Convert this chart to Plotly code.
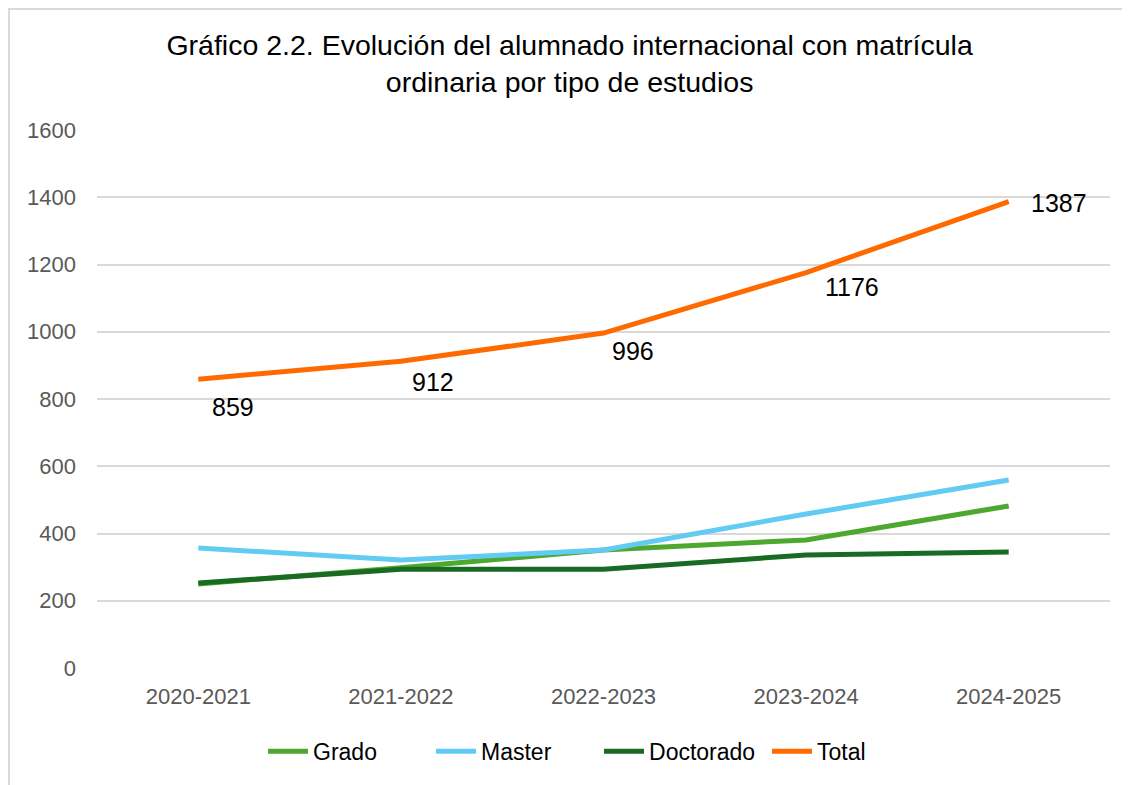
import plotly.graph_objects as go

years = ["2020-2021", "2021-2022", "2022-2023", "2023-2024", "2024-2025"]
grado = [250, 298, 351, 381, 482]
master = [357, 321, 351, 458, 559]
doctorado = [253, 294, 294, 336, 345]
total = [859, 912, 996, 1176, 1387]

series_names = ["Grado", "Master", "Doctorado", "Total"]
series_colors = ["#4EA72E", "#61CBF3", "#196B24", "#FF6A00"]

# label offsets in pixels (style only)
label_dx = [35, 32, 29, 46, 50]
label_dy = [-28, -21, -18, -14, -1]

fig = go.Figure()
for name, vals, col in zip(series_names, [grado, master, doctorado, total], series_colors):
    fig.add_trace(go.Scatter(
        x=years, y=vals, name=name, mode="lines",
        line=dict(color=col, width=5, shape="linear"),
        hoverinfo="x+y+name",
    ))

for xv, yv, dx, dy in zip(years, total, label_dx, label_dy):
    fig.add_annotation(
        x=xv, y=yv, text=str(yv), showarrow=False,
        xanchor="center", yanchor="middle", xshift=dx, yshift=dy,
        font=dict(family="Liberation Sans, Arial", size=25, color="#000000"),
    )

fig.update_layout(
    width=1130, height=785,
    margin=dict(l=89, r=28, t=122, b=125),
    paper_bgcolor="white", plot_bgcolor="white",
    title=dict(
        text="Gráfico 2.2. Evolución del alumnado internacional con matrícula<br>ordinaria por tipo de estudios",
        x=0.497, xanchor="center", y=0.940, yanchor="middle",
        font=dict(family="Liberation Sans, Arial", size=28.5, color="#000000"),
    ),
    xaxis=dict(
        type="category", range=[-0.5, 4.5], showgrid=False, zeroline=False,
        showline=False, ticks="",
        tickfont=dict(family="Liberation Sans, Arial", size=22, color="#595959"),
        ticklabelstandoff=13,
    ),
    yaxis=dict(
        range=[0, 1600], dtick=200, showgrid=True, gridcolor="#D9D9D9", gridwidth=1.5,
        zeroline=False, showline=False, ticks="",
        tickfont=dict(family="Liberation Sans, Arial", size=22, color="#595959"),
        ticklabelstandoff=20,
    ),
    legend=dict(
        orientation="h", x=0.1639, xanchor="left", y=-0.155, yanchor="middle",
        font=dict(family="Liberation Sans, Arial", size=23, color="#000000"),
        itemwidth=40, tracegroupgap=0,
        entrywidth=113, entrywidthmode="pixels",
    ),
    showlegend=True,
)

fig.add_shape(type="line", xref="paper", yref="paper", x0=-0.0869, x1=-0.0869, y0=-0.24, y1=1.2249,
              line=dict(color="#D9D9D9", width=2))
fig.add_shape(type="line", xref="paper", yref="paper", x0=-0.0879, x1=1.03, y0=1.2249, y1=1.2249,
              line=dict(color="#D9D9D9", width=2))

fig.write_html("out.html")
